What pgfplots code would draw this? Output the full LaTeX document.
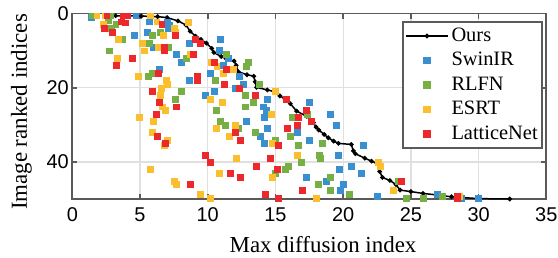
\documentclass[border=0pt]{standalone}
\usepackage{fontspec}
\setmainfont{Liberation Serif}
\newfontfamily\tickfont{Liberation Sans}
\usepackage{pgfplots}
\pgfplotsset{compat=1.18}
\definecolor{cblue}{RGB}{58,143,208}
\definecolor{cgreen}{RGB}{118,175,67}
\definecolor{cyellow}{RGB}{251,190,45}
\definecolor{cred}{RGB}{237,40,45}
\definecolor{axgray}{RGB}{90,90,90}
\begin{document}
\begin{tikzpicture}
\begin{axis}[
  width=474bp, height=185.5bp, scale only axis,
  at={(0,0)}, anchor=south west,
  xmin=0, xmax=35, ymin=0, ymax=50, y dir=reverse,
  xtick={0,5,10,15,20,25,30,35}, ytick={0,20,40},
  grid=major, major grid style={draw=black!12, line width=1.3bp},
  axis line style={draw=axgray, line width=1.8bp},
  tick style={draw=axgray, line width=1.8bp},
  major tick length=5bp, tick align=inside,
  /pgf/number format/assume math mode=true,
  tick label style={font=\fontsize{20}{24}\selectfont\tickfont},
  xticklabel style={yshift=-5bp},
  label style={font=\fontsize{23}{27}\selectfont},
  xlabel={Max diffusion index}, ylabel={Image ranked indices},
  xlabel style={at={(axis description cs:0.529,0)}, anchor=base, yshift=-53bp},
  ylabel style={at={(axis description cs:-0.0956,0.469)}, rotate=0, anchor=base},
  legend style={at={(rel axis cs:0.993,0.9596)}, anchor=north east,
    draw=axgray, line width=1.6bp, fill=white,
    font=\fontsize{20.5}{24.5}\selectfont, inner sep=2bp,
    row sep=0bp, column sep=0bp,
    nodes={inner sep=2.5bp, text height=15bp, text depth=4.5bp}},
  legend cell align=left,
  legend image code/.code={\draw[mark repeat=2,mark phase=2,#1] plot coordinates {(0cm,0cm) (0.75cm,0cm) (1.5cm,0cm)};},
]
\addplot[black, line width=1.5bp, mark=*, mark size=1.5bp] coordinates {
(3.2,0.6) (5.1,0.7) (6.3,0.85) (7.0,1.1) (7.8,2.0) (8.4,3.1) (8.7,4.8) (9.1,6.1) (9.5,7.0) (9.9,8.0) (10.3,9.4) (10.45,10.5) (11.0,11.6) (11.4,12.3) (11.95,12.8) (12.1,14.0) (12.25,15.7) (12.9,16.5) (13.4,16.9) (13.5,18.4) (13.6,19.9) (14.4,20.6) (14.96,21.1) (15.33,22.2) (15.7,23.0) (16.1,24.3) (16.56,26.3) (17.3,27.7) (17.8,29.4) (18.0,30.6) (18.2,31.4) (18.6,32.6) (18.9,33.5) (19.3,34.4) (19.65,35.0) (20.6,35.3) (20.75,37.0) (20.9,37.8) (21.6,39.0) (22.1,39.8) (22.5,40.4) (22.7,42.6) (22.9,44.2) (23.45,45.0) (23.9,46.1) (24.2,47.6) (25.0,48.0) (25.9,48.5) (26.9,48.9) (28.0,49.4) (30.0,49.9) (32.3,50.0)
};
\addlegendentry{Ours}
\addplot[only marks, mark=square*, mark size=2.9bp, color=cblue] coordinates {
(1.4,0.9) (4.68,0.6) (5.68,2.2) (7.01,2.4) (7.16,3.1) (7.09,4.0) (4.58,5.9) (5.54,5.1) (8.63,8.0) (10.9,6.96) (5.93,9.1) (10.85,9.8) (7.68,11.0) (11.49,12.1) (8.04,13.2) (11.14,13.9) (6.42,15.0) (10.18,16.1) (8.63,18.0) (10.48,21.0) (9.82,22.0)
(12.33,16.9) (12.62,19.1) (12.01,20.2) (14.39,23.1) (17.49,23.9) (14.1,25.1) (14.32,26.1) (19.04,27.2) (14.17,28.0) (12.84,29.1) (19.48,30.1) (14.39,30.9) (16.61,32.0) (13.87,33.1) (17.49,34.2) (14.17,35.0) (21.48,35.5) (19.63,38.2) (19.7,42.0) (20.59,41.2) (21.33,43.1) (17.27,44.2) (18.75,45.2) (20.0,46.0) (19.78,47.7) (22.51,49.3) (26.94,48.7) (28.74,49.8) (30.0,49.8)
};
\addlegendentry{SwinIR}
\addplot[only marks, mark=square*, mark size=2.9bp, color=cgreen] coordinates {
(1.43,0.6) (2.83,0.6) (2.66,1.9) (3.95,2.5) (3.2,2.9) (2.9,4.0) (6.47,5.1) (5.9,5.9) (3.72,6.96) (5.68,8.0) (7.11,9.1) (2.73,10.0) (11.34,10.9) (8.41,12.1) (12.99,13.2) (12.82,14.1) (5.9,16.1) (5.61,16.9) (10.55,18.0) (13.78,19.1) (8.04,21.0) (12.77,22.0) (7.6,23.1) (13.36,23.9) (12.77,25.1) (10.63,26.1) (17.34,27.2) (16.24,28.0) (10.92,29.1) (11.29,30.1) (12.25,30.9) (13.5,32.0) (16.09,33.1) (14.98,34.2) (16.68,35.5) (18.45,35.0) (18.23,38.2) (18.3,39.0) (16.9,40.1) (15.94,41.2) (15.72,42.0) (14.98,43.1) (19.04,44.2) (18.15,46.0) (19.04,47.7) (20.44,48.7) (24.06,45.1) (24.68,49.8) (25.9,49.8) (27.3,49.3)
};
\addlegendentry{RLFN}
\addplot[only marks, mark=square*, mark size=2.9bp, color=cyellow] coordinates {
(1.8,0.6) (2.41,0.6) (5.76,0.6) (6.23,2.2) (8.56,2.4) (2.29,2.9) (7.53,4.0) (7.58,4.9) (6.72,5.9) (3.4,6.96) (5.17,8.0) (6.35,9.1) (5.31,10.0) (8.69,11.0) (3.32,12.1) (10.24,13.2) (10.66,14.1) (11.14,16.1) (4.87,16.9) (6.94,18.0) (7.01,19.1) (6.57,20.2) (6.47,22.0) (10.18,23.1) (11.07,23.9) (11.88,15.0) (14.98,21.0) (6.64,25.1) (6.86,26.1) (4.94,28.0) (5.98,29.1) (10.63,30.9) (5.9,32.0) (11.56,33.1) (7.01,34.2) (6.79,35.5) (5.76,42.0) (10.85,43.1) (7.53,45.2) (7.68,46.0) (9.45,48.7) (10.18,49.8) (14.69,27.2) (12.03,30.1) (14.76,35.0) (16.61,38.2) (12.1,39.0) (22.58,40.1) (22.73,41.2) (14.76,44.2) (18.0,49.8) (23.69,47.6) (28.6,49.3)
};
\addlegendentry{ESRT}
\addplot[only marks, mark=square*, mark size=2.9bp, color=cred] coordinates {
(2.54,0.6) (3.72,0.6) (4.06,0.6) (3.64,2.2) (3.89,2.5) (6.6,2.9) (2.36,4.0) (2.95,5.1) (7.6,5.9) (9.08,6.96) (9.45,8.0) (6.79,9.1) (6.79,10.0) (8.93,11.0) (4.43,12.1) (3.25,13.9) (10.48,13.2) (11.39,15.0) (6.35,16.1) (9.23,16.9) (9.23,18.0) (11.22,19.1) (5.9,21.0) (6.42,23.9) (12.33,20.2) (13.5,22.0) (15.79,23.1) (7.68,25.1) (6.2,27.2) (6.27,33.1) (6.86,35.0) (9.82,38.2) (10.18,40.1) (11.68,43.1) (8.71,46.0) (17.27,26.1) (16.68,28.0) (17.64,29.1) (16.61,30.1) (15.87,30.9) (12.03,32.0) (12.4,34.2) (15.2,35.5) (14.61,39.0) (13.58,41.2) (15.13,42.0) (12.4,44.2) (16.97,47.7) (14.24,48.7) (15.2,49.8) (24.3,45.1) (28.41,49.3) (28.41,49.8)
};
\addlegendentry{LatticeNet}
\end{axis}
\pgfresetboundingbox
\path[use as bounding box] (-72.3bp,-59bp) rectangle (485.7bp,199bp);
\end{tikzpicture}
\end{document}
